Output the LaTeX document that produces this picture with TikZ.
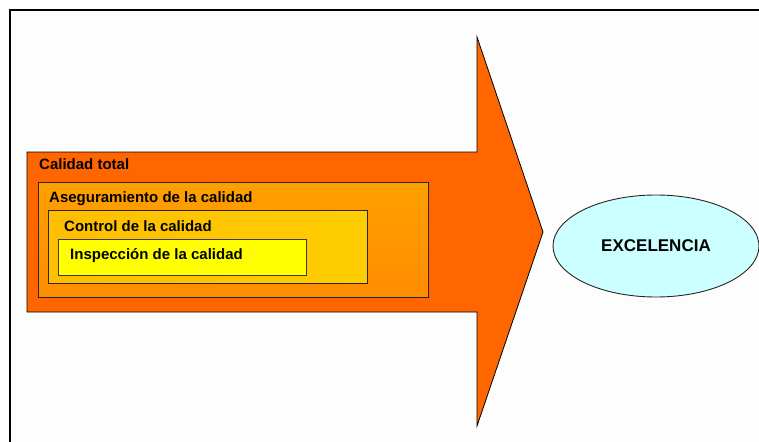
\documentclass[tikz,border=0pt]{standalone}
\usepackage{fontspec}
\setmainfont{Liberation Sans}
\usetikzlibrary{shapes.geometric}
\definecolor{arroworange}{RGB}{255,102,0}
\definecolor{asegA}{RGB}{255,160,0}
\definecolor{asegB}{RGB}{255,140,0}
\definecolor{ctrlA}{RGB}{255,190,0}
\definecolor{ctrlB}{RGB}{255,206,0}
\definecolor{inspY}{RGB}{255,255,0}
\definecolor{exccyan}{RGB}{204,255,255}
\definecolor{pagebg}{RGB}{253,253,253}
\tikzset{
  lbl/.style={anchor=base west, inner sep=0pt, font=\fontsize{15}{18}\selectfont\bfseries},
  boxline/.style={draw=black!85, line width=0.9pt},
}
\begin{document}
\begin{tikzpicture}[x=1pt,y=-1pt]
\useasboundingbox (0,0) rectangle (759,441);
\clip (0,0) rectangle (759,441);
\fill[white] (0,0) rectangle (759,441);
\fill[pagebg] (10,10) rectangle (770,450);
\draw[line width=2.2pt] (10,450) -- (10,10) -- (770,10);
% big arrow
\draw[fill=arroworange, draw=black, line width=0.8pt, line join=miter]
  (27,152) -- (477,152) -- (477,37) -- (543,232) -- (477,426) -- (477,312) -- (27,312) -- cycle;
% nested boxes
\path[boxline, top color=asegA, bottom color=asegB] (38,182) rectangle (428,297);
\path[boxline, left color=ctrlA, right color=ctrlB] (48,210) rectangle (367,283);
\path[draw=black!75!olive, line width=1pt, fill=inspY] (58,239) rectangle (306,275);
% labels
\node[lbl] (total) at (39,169) {Calidad total};
\node[lbl] (aseg) at (49,202) {Aseguramiento de la calidad};
\node[lbl] (ctrl) at (64,231) {Control de la calidad};
\node[lbl] (insp) at (70,259) {Inspección de la calidad};
% ellipse
\node[ellipse, draw=black!85, line width=0.9pt, fill=exccyan,
      minimum width=206pt, minimum height=102pt, inner sep=0pt,
      font=\fontsize{17}{20}\selectfont\bfseries] (exc) at (656,246) {EXCELENCIA};
\end{tikzpicture}
\end{document}
